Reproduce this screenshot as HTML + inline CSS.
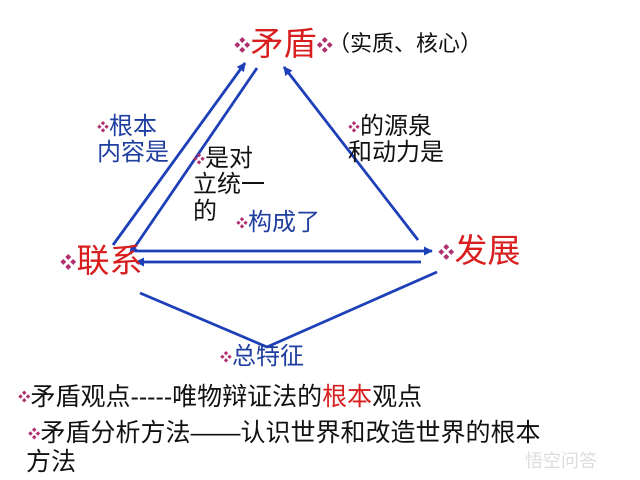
<!DOCTYPE html>
<html><head><meta charset="utf-8"><style>
body{margin:0;width:640px;height:480px;background:#fff;overflow:hidden;position:relative;font-family:"Liberation Sans","Noto Sans CJK SC",sans-serif}
.t{position:absolute;white-space:nowrap;line-height:1.1}
.d{color:#b0306f;font-size:0.5em;vertical-align:middle}
.r{color:#d81e1e}.b{color:#1f3fa0}.k{color:#111}
</style></head><body>
<svg width="640" height="480" style="position:absolute;left:0;top:0">
<defs><marker id="a" markerWidth="9" markerHeight="9" refX="8" refY="4.5" orient="auto" markerUnits="userSpaceOnUse"><path d="M0,0 L9,4.5 L0,9 z" fill="#1d3fb8"/></marker></defs>
<g stroke="#1d3fb8" stroke-width="2.8" fill="none">
<line x1="113" y1="245" x2="245" y2="63" marker-end="url(#a)"/>
<line x1="257" y1="68" x2="130" y2="254" marker-end="url(#a)"/>
<line x1="418" y1="240" x2="284" y2="67" marker-end="url(#a)"/>
<line x1="135" y1="251" x2="432" y2="251" marker-end="url(#a)"/>
<line x1="421" y1="262" x2="136" y2="262" marker-end="url(#a)"/>
<polyline points="140,293 267,347 437,272"/>
</g></svg>
<div class="t r" style="left:234px;top:26px;font-size:33px"><span class="d">❖</span>矛盾<span class="d">❖</span></div>
<div class="t k" style="left:328px;top:32px;font-size:22px">（实质、核心）</div>
<div class="t r" style="left:60px;top:243px;font-size:33px"><span class="d">❖</span>联系</div>
<div class="t r" style="left:438px;top:233px;font-size:33px"><span class="d">❖</span>发展</div>
<div class="t b" style="left:97px;top:114px;font-size:24px"><span class="d">❖</span>根本<br>内容是</div>
<div class="t k" style="left:193px;top:146px;font-size:24px"><span class="d">❖</span>是对<br>立统一<br>的</div>
<div class="t b" style="left:236px;top:210px;font-size:24px"><span class="d">❖</span>构成了</div>
<div class="t k" style="left:348px;top:114px;font-size:24px"><span class="d">❖</span>的源泉<br>和动力是</div>
<div class="t b" style="left:220px;top:344px;font-size:24px"><span class="d">❖</span>总特征</div>
<div class="t k" style="left:18px;top:384px;font-size:25px"><span class="d">❖</span>矛盾观点-----唯物辩证法的<span class="r">根本</span>观点</div>
<div class="t k" style="left:28px;top:418px;font-size:25px;line-height:30px"><span class="d">❖</span>矛盾分析方法——认识世界和改造世界的根本</div>
<div class="t k" style="left:26px;top:447px;font-size:25px;line-height:30px">方法</div>
<div class="t" style="left:525px;top:452px;font-size:18px;color:#ddd">悟空问答</div>
</body></html>
